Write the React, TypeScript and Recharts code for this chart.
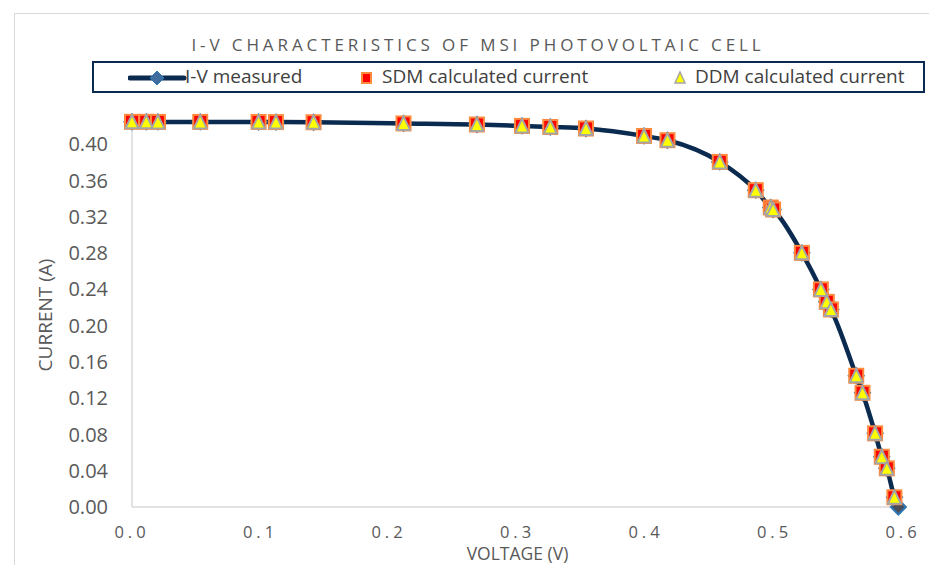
import React from 'react';
import { ScatterChart, Scatter, XAxis, YAxis, Legend, Label } from 'recharts';

// Voltage (V) of each measured point
const voltage = [
  0, 0.0111, 0.0202, 0.0531, 0.0985, 0.112, 0.1413, 0.2113, 0.2684, 0.3035,
  0.3255, 0.3533, 0.3985, 0.4167, 0.4574, 0.4854, 0.4971, 0.4989, 0.5213,
  0.5361, 0.5407, 0.5439, 0.5636, 0.5685, 0.5783, 0.5835, 0.5874, 0.5933, 0.5964,
];
// Measured current (A)
const measuredCurrent = [
  0.4247, 0.4247, 0.4246, 0.4246, 0.4245, 0.4244, 0.4242, 0.4229, 0.4217, 0.4202,
  0.419, 0.4173, 0.4091, 0.4044, 0.3805, 0.3493, 0.3302, 0.328, 0.2802,
  0.2399, 0.2262, 0.2178, 0.1447, 0.1259, 0.0812, 0.0554, 0.0426, 0.0107, 0,
];
// Single diode model calculated current (A)
const sdmCurrent = [
  0.4247, 0.4247, 0.4246, 0.4246, 0.4245, 0.4244, 0.4242, 0.4229, 0.4217, 0.4202,
  0.419, 0.4173, 0.4091, 0.4044, 0.3805, 0.3493, 0.3302, 0.328, 0.2802,
  0.2399, 0.2262, 0.2178, 0.1447, 0.1259, 0.0812, 0.0554, 0.0426, 0.0107,
];
// Double diode model calculated current (A)
const ddmCurrent = [
  0.4247, 0.4247, 0.4246, 0.4246, 0.4245, 0.4244, 0.4242, 0.4229, 0.4217, 0.4202,
  0.419, 0.4173, 0.4091, 0.4044, 0.3805, 0.3493, 0.3302, 0.328, 0.2802,
  0.2399, 0.2262, 0.2178, 0.1447, 0.1259, 0.0812, 0.0554, 0.0426, 0.0107,
];

const xTicks = [0, 0.1, 0.2, 0.3, 0.4, 0.5, 0.6];
const yTicks = [0, 0.04, 0.08, 0.12, 0.16, 0.2, 0.24, 0.28, 0.32, 0.36, 0.4];

const seriesNames = ['I-V measured', 'SDM calculated current', 'DDM calculated current'];
const chartTitle = 'I-V CHARACTERISTICS OF MSI PHOTOVOLTAIC CELL';

const measuredData = voltage.map((v, k) => ({ v, i: measuredCurrent[k] }));
const sdmData = sdmCurrent.map((i, k) => ({ v: voltage[k], i }));
const ddmData = ddmCurrent.map((i, k) => ({ v: voltage[k], i }));

const LINE_COLOR = '#0B2A4F';
const FONT = '"Open Sans", "Noto Sans", sans-serif';
const GREY_TEXT = '#595959';

const Diamond = (props: any) => {
  const { cx, cy } = props;
  if (cx == null || cy == null) return null;
  const r = 7.5;
  return (
    <path
      d={`M${cx},${cy - r}L${cx + r},${cy}L${cx},${cy + r}L${cx - r},${cy}Z`}
      fill="#4A4F5A"
      stroke="#2E75B6"
      strokeWidth={2}
    />
  );
};

const Square = (props: any) => {
  const { cx, cy } = props;
  if (cx == null || cy == null) return null;
  const s = 14;
  return (
    <rect x={cx - s / 2} y={cy - s / 2} width={s} height={s} fill="#FF0000" stroke="#FF8A3D" strokeWidth={2} />
  );
};

const Triangle = (props: any) => {
  const { cx, cy } = props;
  if (cx == null || cy == null) return null;
  const h = 13;
  const w = 13;
  return (
    <path
      d={`M${cx},${cy - h / 2 - 0.5}L${cx + w / 2},${cy + h / 2}L${cx - w / 2},${cy + h / 2}Z`}
      fill="#FFFF00"
      stroke="#A5A5A5"
      strokeWidth={2}
      strokeLinejoin="round"
    />
  );
};

const renderLegend = () => (
  <div
    style={{
      position: 'relative',
      boxSizing: 'border-box',
      width: 833,
      height: 32,
      border: `2px solid ${LINE_COLOR}`,
      fontFamily: FONT,
      fontSize: 19,
      color: '#404040',
    }}
  >
    <svg style={{ position: 'absolute', left: 34, top: 6 }} width={60} height={18}>
      <line x1={2} y1={9} x2={56} y2={9} stroke={LINE_COLOR} strokeWidth={5} strokeLinecap="round" />
      <path d="M29,2L36,9L29,16L22,9Z" fill="#3F6E9E" stroke="#2E75B6" strokeWidth={1} />
    </svg>
    <span style={{ position: 'absolute', left: 91, top: 0, whiteSpace: 'nowrap' }}>{seriesNames[0]}</span>
    <svg style={{ position: 'absolute', left: 265, top: 7 }} width={16} height={16}>
      <rect x={3} y={3} width={9} height={10} fill="#FF0000" stroke="#FF8A3D" strokeWidth={2} />
    </svg>
    <span style={{ position: 'absolute', left: 288, top: 0, whiteSpace: 'nowrap' }}>{seriesNames[1]}</span>
    <svg style={{ position: 'absolute', left: 578, top: 7 }} width={16} height={16}>
      <path d="M8,2L13,13L3,13Z" fill="#FFFF00" stroke="#A5A5A5" strokeWidth={1.5} />
    </svg>
    <span style={{ position: 'absolute', left: 601, top: 0, whiteSpace: 'nowrap' }}>{seriesNames[2]}</span>
  </div>
);

export default function App() {
  return (
    <div
      style={{
        position: 'fixed',
        left: 0,
        top: 0,
        width: 929,
        height: 565,
        background: '#fff',
        overflow: 'hidden',
      }}
    >
      <div
        style={{
          position: 'absolute',
          left: 14,
          top: 13,
          width: 1000,
          height: 700,
          border: '1.5px solid #D9D9D9',
        }}
      />
      <div
        style={{
          position: 'absolute',
          left: 0,
          width: 956,
          top: 33,
          textAlign: 'center',
          fontFamily: FONT,
          fontSize: 17,
          letterSpacing: 3.9,
          color: GREY_TEXT,
          whiteSpace: 'nowrap',
        }}
      >
        {chartTitle}
      </div>
      <ScatterChart width={929} height={565} margin={{ top: 117, right: 26, bottom: 0, left: 0 }}>
        <XAxis
          type="number"
          dataKey="v"
          domain={[0, 0.6]}
          ticks={xTicks}
          tickFormatter={(t: number) => t.toFixed(1)}
          axisLine={{ stroke: '#D9D9D9', strokeWidth: 1.5 }}
          tickLine={false}
          tickSize={6}
          tickMargin={13}
          height={58}
          tick={{ fill: GREY_TEXT, fontSize: 16.5, fontFamily: FONT, letterSpacing: 4 }}
        >
          <Label
            value="VOLTAGE (V)"
            position="insideBottom"
            offset={5}
            style={{ fill: GREY_TEXT, fontSize: 17.5, fontFamily: FONT }}
          />
        </XAxis>
        <YAxis
          type="number"
          dataKey="i"
          domain={[0, 0.43]}
          ticks={yTicks}
          tickFormatter={(t: number) => t.toFixed(2)}
          axisLine={{ stroke: '#D9D9D9', strokeWidth: 1.5 }}
          tickLine={false}
          tickSize={6}
          tickMargin={18}
          width={132}
          tick={{ fill: GREY_TEXT, fontSize: 20, fontFamily: FONT }}
        >
          <Label
            content={(props: any) => {
              const vb = props.viewBox || { x: 0, y: 117, width: 132, height: 390 };
              const cy = vb.y + vb.height / 2 + 3;
              return (
                <text
                  x={45}
                  y={cy}
                  transform={`rotate(-90, 45, ${cy})`}
                  textAnchor="middle"
                  dominantBaseline="central"
                  fill={GREY_TEXT}
                  fontSize={19}
                  fontFamily={FONT}
                >
                  CURRENT (A)
                </text>
              );
            }}
          />
        </YAxis>
        <Legend
          layout="vertical"
          align="center"
          verticalAlign="middle"
          content={renderLegend}
          wrapperStyle={{ left: 92, top: 61, width: 833, height: 32 }}
        />
        <Scatter
          name={seriesNames[0]}
          data={measuredData}
          isAnimationActive={false}
          line={{ stroke: LINE_COLOR, strokeWidth: 4.5 }}
          lineJointType="monotoneX"
          shape={Diamond}
        />
        <Scatter name={seriesNames[1]} data={sdmData} isAnimationActive={false} shape={Square} />
        <Scatter name={seriesNames[2]} data={ddmData} isAnimationActive={false} shape={Triangle} />
      </ScatterChart>
    </div>
  );
}
